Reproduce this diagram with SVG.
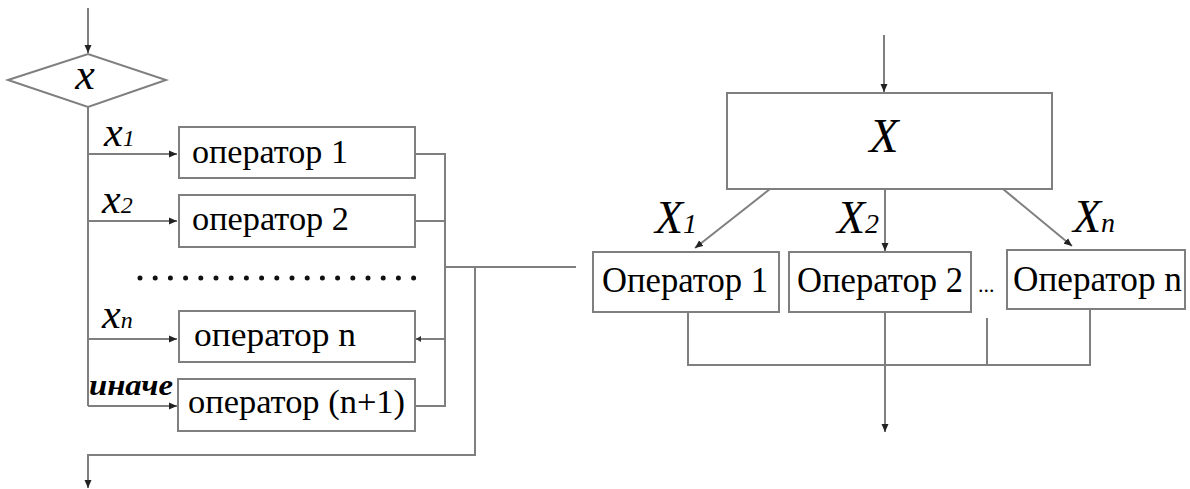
<svg xmlns="http://www.w3.org/2000/svg" width="1190" height="489" viewBox="0 0 1190 489">
<style>
.box{fill:#fff;stroke:#7f7f7f;stroke-width:2}
.ln{fill:none;stroke:#7f7f7f;stroke-width:2}
.t{font-family:"Liberation Serif","Times New Roman",serif;fill:#000}
.lt{font-size:34px}
.rt{font-size:36px}
.it{font-style:italic}
</style>
<defs>
<marker id="ah" markerWidth="8" markerHeight="8" refX="8" refY="4" orient="auto" markerUnits="userSpaceOnUse">
<path d="M0,0.5 L8,4 L0,7.5 z" fill="#222"/>
</marker>
<marker id="ahs" markerWidth="5" markerHeight="6" refX="5" refY="3" orient="auto" markerUnits="userSpaceOnUse">
<path d="M0,0 L5,3 L0,6 z" fill="#333"/>
</marker>
</defs>
<rect width="1190" height="489" fill="#fff"/>
<g id="connectors">
<path class="ln" d="M88,8 V53" marker-end="url(#ah)"/>
<path class="ln" d="M88,107 V406"/>
<path class="ln" d="M88,154 H177" marker-end="url(#ah)"/>
<path class="ln" d="M88,221 H177" marker-end="url(#ah)"/>
<path class="ln" d="M88,339 H177" marker-end="url(#ah)"/>
<path class="ln" d="M88,406 H177" marker-end="url(#ah)"/>
<path class="ln" d="M415,154 H445 V406 H415"/>
<path class="ln" d="M415,221 H445"/>
<path class="ln" d="M445,339 H416" marker-end="url(#ahs)"/>
<path class="ln" d="M445,267 H576"/>
<path class="ln" d="M475,267 V455 H88 V488" marker-end="url(#ah)"/>
<path class="ln" d="M884,35 V92" marker-end="url(#ah)"/>
<path class="ln" d="M770,189 L695,248" marker-end="url(#ah)"/>
<path class="ln" d="M885,189 V251" marker-end="url(#ah)"/>
<path class="ln" d="M1003,189 L1072,246" marker-end="url(#ah)"/>
<path class="ln" d="M688,312 V365 H1090 V310"/>
<path class="ln" d="M987,318 V365"/>
<path class="ln" d="M885,312 V432" marker-end="url(#ah)"/>
<line x1="140" y1="278" x2="415" y2="278" stroke="#111" stroke-width="5" stroke-linecap="round" stroke-dasharray="0 15.2"/>
</g>
<g id="decision">
<polygon class="box" points="8,80 88,54 166,80 88,107"/>
<text class="t it" x="85" y="89" font-size="44" text-anchor="middle">x</text>
</g>
<g id="labels-left">
<text class="t it" x="104" y="146" font-size="42">x<tspan font-size="24">1</tspan></text>
<text class="t it" x="102" y="213" font-size="42">x<tspan font-size="24">2</tspan></text>
<text class="t it" x="102" y="328" font-size="42">x<tspan font-size="24">n</tspan></text>
<text class="t it" x="89" y="395" font-size="30" font-weight="bold" textLength="84" lengthAdjust="spacingAndGlyphs">иначе</text>
</g>
<g id="op1">
<rect class="box" x="179" y="127" width="236" height="51"/>
<text class="t lt" x="192" y="163" textLength="156" lengthAdjust="spacingAndGlyphs">оператор 1</text>
</g>
<g id="op2">
<rect class="box" x="179" y="195" width="236" height="52"/>
<text class="t lt" x="192" y="230" textLength="157" lengthAdjust="spacingAndGlyphs">оператор 2</text>
</g>
<g id="opn">
<rect class="box" x="179" y="311" width="236" height="51"/>
<text class="t lt" x="194" y="346" textLength="162" lengthAdjust="spacingAndGlyphs">оператор n</text>
</g>
<g id="opn1">
<rect class="box" x="178" y="379" width="237" height="52"/>
<text class="t lt" x="188" y="413" textLength="217" lengthAdjust="spacingAndGlyphs">оператор (n+1)</text>
</g>
<g id="switch">
<rect class="box" x="727" y="93" width="325" height="96"/>
<text class="t it" x="884" y="152" font-size="48" text-anchor="middle">X</text>
</g>
<g id="labels-right">
<text class="t it" x="655" y="233" font-size="46">X<tspan font-size="28">1</tspan></text>
<text class="t it" x="837" y="233" font-size="46">X<tspan font-size="28">2</tspan></text>
<text class="t it" x="1073" y="232" font-size="46">X<tspan font-size="28">n</tspan></text>
</g>
<g id="rop1">
<rect class="box" x="593" y="252" width="186" height="60"/>
<text class="t rt" x="602" y="292" textLength="166" lengthAdjust="spacingAndGlyphs">Оператор 1</text>
</g>
<g id="rop2">
<rect class="box" x="789" y="252" width="182" height="60"/>
<text class="t rt" x="797" y="292" textLength="166" lengthAdjust="spacingAndGlyphs">Оператор 2</text>
</g>
<text class="t" x="978" y="292" font-size="22">...</text>
<g id="ropn">
<rect class="box" x="1007" y="250" width="178" height="59"/>
<text class="t rt" x="1013" y="291" textLength="169" lengthAdjust="spacingAndGlyphs">Оператор n</text>
</g>
</svg>
